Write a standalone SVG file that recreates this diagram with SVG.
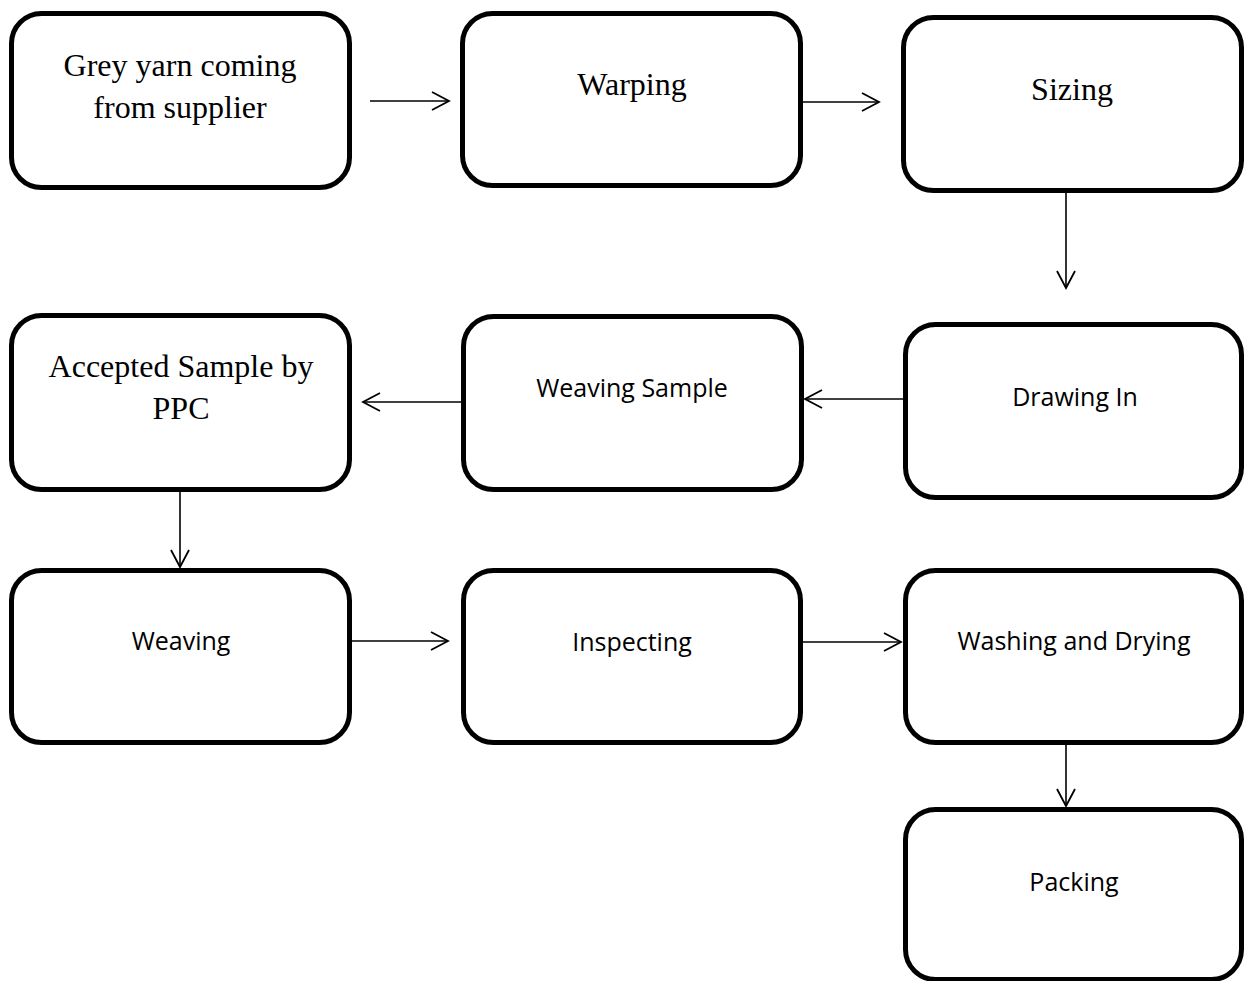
<svg xmlns="http://www.w3.org/2000/svg" width="1252" height="981" viewBox="0 0 1252 981">
<style>
.box{fill:#fff;stroke:#000;stroke-width:5}
.serif{font-family:"Liberation Serif","Times New Roman",serif;font-size:32px;fill:#000;text-anchor:middle}
.sans{font-family:"Open Sans","Noto Sans",sans-serif;font-size:25px;fill:#000;text-anchor:middle}
.conn{stroke:#000;stroke-width:1.6;fill:none;marker-end:url(#arr)}
</style>
<defs>
<marker id="arr" markerUnits="userSpaceOnUse" viewBox="0 0 20 20" markerWidth="20" markerHeight="20" refX="18" refY="10" orient="auto">
<path d="M1,1 L18,10 L1,19" fill="none" stroke="#000" stroke-width="1.8"/>
</marker>
</defs>
<rect width="1252" height="981" fill="#fff"/>
<g id="n1"><rect class="box" x="11.5" y="13.5" width="338" height="174" rx="30"/><text class="serif" x="180" y="76">Grey yarn coming</text><text class="serif" x="180" y="118">from supplier</text></g>
<g id="n2"><rect class="box" x="462.5" y="13.5" width="338" height="172" rx="30"/><text class="serif" x="632" y="95">Warping</text></g>
<g id="n3"><rect class="box" x="903.5" y="17.5" width="338" height="173" rx="30"/><text class="serif" x="1072" y="100">Sizing</text></g>
<g id="n4"><rect class="box" x="905.5" y="324.5" width="336" height="173" rx="30"/><text class="sans" x="1075" y="406">Drawing In</text></g>
<g id="n5"><rect class="box" x="463.5" y="316.5" width="338" height="173" rx="30"/><text class="sans" x="632" y="397">Weaving Sample</text></g>
<g id="n6"><rect class="box" x="11.5" y="315.5" width="338" height="174" rx="30"/><text class="serif" x="181" y="377">Accepted Sample by</text><text class="serif" x="181" y="419">PPC</text></g>
<g id="n7"><rect class="box" x="11.5" y="570.5" width="338" height="172" rx="30"/><text class="sans" x="181" y="650">Weaving</text></g>
<g id="n8"><rect class="box" x="463.5" y="570.5" width="337" height="172" rx="30"/><text class="sans" x="632" y="651">Inspecting</text></g>
<g id="n9"><rect class="box" x="905.5" y="570.5" width="336" height="172" rx="30"/><text class="sans" x="1074" y="650">Washing and Drying</text></g>
<g id="n10"><rect class="box" x="905.5" y="809.5" width="336" height="170" rx="30"/><text class="sans" x="1074" y="891">Packing</text></g>
<g id="connectors">
<line class="conn" x1="370" y1="101" x2="449" y2="101"/>
<line class="conn" x1="803" y1="102" x2="879" y2="102"/>
<line class="conn" x1="1066" y1="193" x2="1066" y2="288"/>
<line class="conn" x1="903" y1="399" x2="805" y2="399"/>
<line class="conn" x1="461" y1="402" x2="363" y2="402"/>
<line class="conn" x1="180" y1="492" x2="180" y2="567"/>
<line class="conn" x1="352" y1="641" x2="448" y2="641"/>
<line class="conn" x1="803" y1="642" x2="901" y2="642"/>
<line class="conn" x1="1066" y1="745" x2="1066" y2="806"/>
</g>
</svg>
